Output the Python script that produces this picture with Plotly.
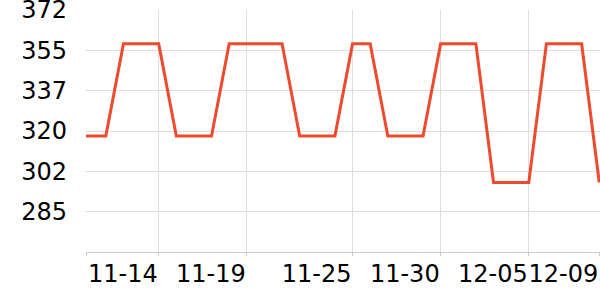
import plotly.graph_objects as go

dates = ["2023-11-09", "2023-11-10", "2023-11-11", "2023-11-12", "2023-11-13", "2023-11-14",
         "2023-11-15", "2023-11-16", "2023-11-17", "2023-11-18", "2023-11-19", "2023-11-20",
         "2023-11-21", "2023-11-22", "2023-11-23", "2023-11-24", "2023-11-25", "2023-11-26",
         "2023-11-27", "2023-11-28", "2023-11-29", "2023-11-30", "2023-12-01", "2023-12-02",
         "2023-12-03", "2023-12-04", "2023-12-05", "2023-12-06", "2023-12-07", "2023-12-08",
         "2023-12-09"]
values = [317.6, 317.6, 317.6, 357.4, 357.4, 357.4,
          317.6, 317.6, 317.6, 357.4, 357.4, 357.4,
          357.4, 317.6, 317.6, 317.6, 357.4, 357.4,
          317.6, 317.6, 317.6, 357.4, 357.4, 357.4,
          297.6, 297.6, 297.6, 357.4, 357.4, 357.4,
          297.6]

x_tick_dates = ["2023-11-09 21:00", "2023-11-14", "2023-11-19", "2023-11-25", "2023-11-30", "2023-12-05", "2023-12-09"]
x_tick_labels = ["", "11-14", "11-19", "11-25", "11-30", "12-05", "12-09"]
y_tick_values = [267.6, 285.0, 302.4, 319.8, 337.2, 354.6, 372.0]
y_tick_labels = ["", "285", "302", "320", "337", "355", "372"]

fig = go.Figure()
fig.add_trace(go.Scatter(x=dates, y=values, mode="lines",
                         line=dict(color="#ee4a2d", width=3), hoverinfo="skip"))

fig.update_layout(
    width=600, height=300,
    margin=dict(l=86, r=0, t=10, b=48),
    paper_bgcolor="white", plot_bgcolor="white",
    showlegend=False,
    font=dict(family="DejaVu Sans", size=24, color="#000"),
    xaxis=dict(
        type="date",
        range=["2023-11-09 21:00", "2023-12-09 01:00"],
        tickmode="array", tickvals=x_tick_dates, ticktext=x_tick_labels,
        tickangle=0, automargin=False,
        showgrid=True, gridcolor="#dddddd", gridwidth=1,
        showline=True, linecolor="#cccccc", linewidth=1,
        ticks="outside", ticklen=3, tickcolor="#cccccc",
        ticklabelposition="outside left", ticklabeloverflow="allow",
        zeroline=False,
    ),
    yaxis=dict(
        range=[267.6, 372.0],
        tickmode="array", tickvals=y_tick_values, ticktext=y_tick_labels,
        automargin=False,
        showgrid=True, gridcolor="#dddddd", gridwidth=1,
        showline=False,
        ticks="", ticklabelstandoff=18, ticklabeloverflow="allow",
        zeroline=False,
    ),
)

fig.write_html("out.html")
